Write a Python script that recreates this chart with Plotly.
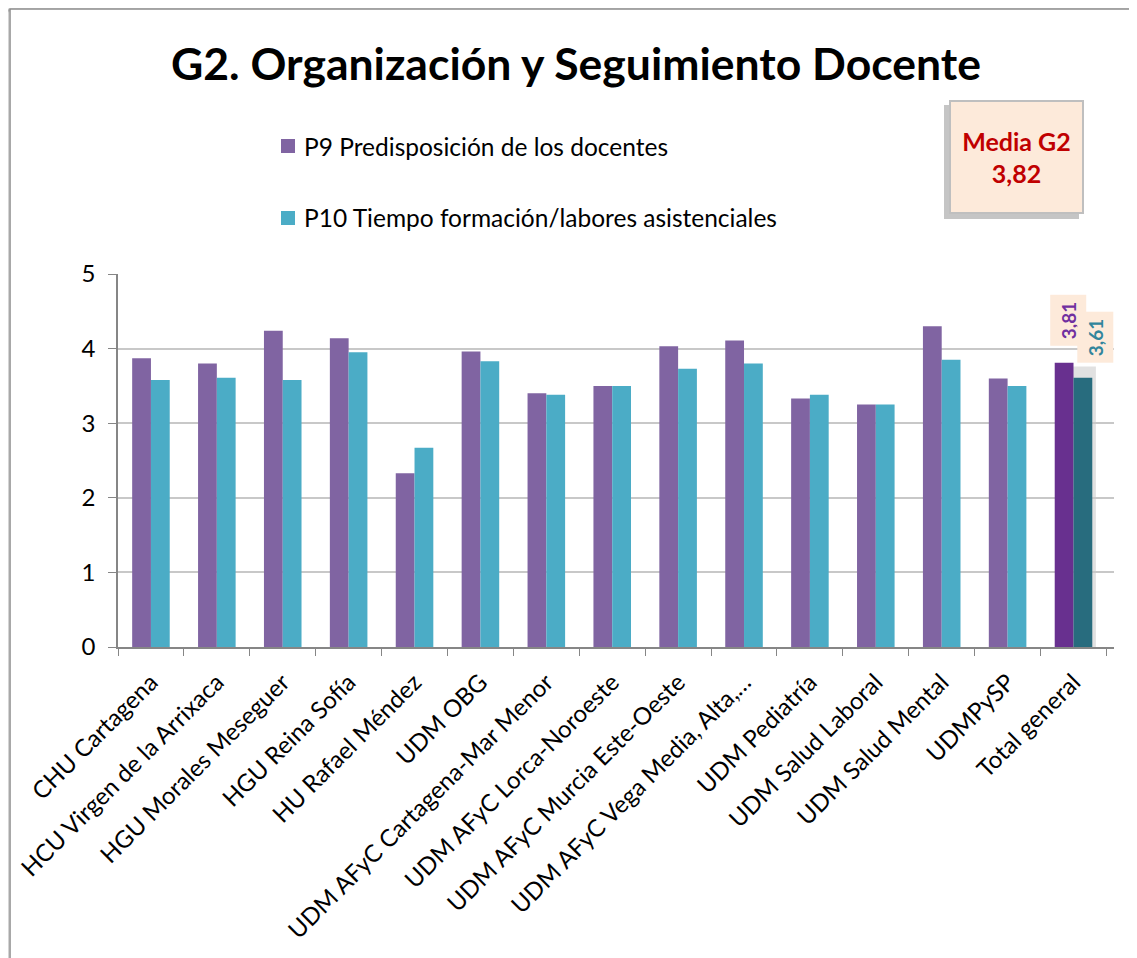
import plotly.graph_objects as go

categories = [
    "CHU Cartagena", "HCU Virgen de la Arrixaca", "HGU Morales Meseguer",
    "HGU Reina Sofía", "HU Rafael Méndez", "UDM OBG",
    "UDM AFyC Cartagena-Mar Menor", "UDM AFyC Lorca-Noroeste",
    "UDM AFyC Murcia Este-Oeste", "UDM AFyC Vega Media, Alta,…",
    "UDM Pediatría", "UDM Salud Laboral", "UDM Salud Mental", "UDMPySP",
    "Total general",
]
p9_values = [3.87, 3.80, 4.24, 4.14, 2.33, 3.96, 3.40, 3.50, 4.03, 4.11, 3.33, 3.25, 4.30, 3.60, 3.81]
p10_values = [3.58, 3.61, 3.58, 3.95, 2.67, 3.83, 3.38, 3.50, 3.73, 3.80, 3.38, 3.25, 3.85, 3.50, 3.61]
series_names = ["P9 Predisposición de los docentes", "P10 Tiempo formación/labores asistenciales"]
total_labels = ["3,81", "3,61"]
media_text = "Media G2<br>3,82"
title_text = "G2. Organización y Seguimiento Docente"
y_ticks = [0, 1, 2, 3, 4, 5]

OFF = 8  # page body margin
W, H = 1137 - OFF, 958 - OFF
# reference pixel positions (screen) of plot area
PL, PR, PT, PB = 118, 1114, 274, 647
L, T = PL - OFF, PT - OFF
R, B = W - (PR - OFF), H - (PB - OFF)
PW, PH = PR - PL, PB - PT

def px_x(px):
    return (px - PL) / PW

def px_y(py):
    return 1 - (py - PT) / PH

FONT = "Lato"
purple, teal = "#8064A2", "#4BACC6"
purple_dark, teal_dark = "#68308F", "#286C7E"
peach = "#FDEADA"

n = len(categories)
c9 = [purple] * (n - 1) + [purple_dark]
c10 = [teal] * (n - 1) + [teal_dark]

fig = go.Figure()
fig.add_trace(go.Bar(x=categories, y=p9_values, name=series_names[0],
                     marker=dict(color=c9, line=dict(width=0)), showlegend=False))
fig.add_trace(go.Bar(x=categories, y=p10_values, name=series_names[1],
                     marker=dict(color=c10, line=dict(width=0)), showlegend=False))

shapes = []
# outer chart frame with shadow
for i, op in enumerate([0.08, 0.14, 0.22, 0.32]):
    off = 8 - 2 * i
    shapes.append(dict(type="rect", xref="paper", yref="paper",
                       x0=px_x(10 - off), x1=px_x(1160), y0=px_y(1000), y1=px_y(9 + off * 0.3),
                       line=dict(color=f"rgba(120,120,120,{op})", width=2), fillcolor="rgba(0,0,0,0)", layer="below"))
shapes.append(dict(type="rect", xref="paper", yref="paper",
                   x0=px_x(10), x1=px_x(1160), y0=px_y(1000), y1=px_y(9),
                   line=dict(color="#8C8C8C", width=1.5), fillcolor="white", layer="below"))
# soft shadow behind total general bars
shapes.append(dict(type="rect", xref="x", yref="y", x0=13.74, x1=14.34, y0=0, y1=p9_values[-1] - 0.05,
                   line=dict(width=0), fillcolor="rgba(90,90,90,0.18)", layer="below"))
# shadow behind media box
shapes.append(dict(type="rect", xref="paper", yref="paper", x0=px_x(944), x1=px_x(1079), y0=px_y(219), y1=px_y(105),
                   line=dict(width=0), fillcolor="rgba(110,110,110,0.40)", layer="above"))
# legend squares
legend_rows = [146, 218]
for color, row in zip([purple, teal], legend_rows):
    shapes.append(dict(type="rect", xref="paper", yref="paper", x0=px_x(281), x1=px_x(295),
                       y0=px_y(row + 7), y1=px_y(row - 7), line=dict(width=0), fillcolor=color, layer="above"))

annotations = [
    dict(text=f"<b>{title_text}</b>", xref="paper", yref="paper", x=px_x(576), y=px_y(62),
         xanchor="center", yanchor="middle", showarrow=False, font=dict(family=FONT, size=44.5, color="black")),
    dict(text=f"<b>{media_text}</b>", xref="paper", yref="paper", x=px_x(1016.5), y=px_y(157),
         xanchor="center", yanchor="middle", showarrow=False, width=129, height=108,
         bgcolor=peach, bordercolor="#BFBFBF", borderwidth=2,
         font=dict(family=FONT, size=25, color="#C00000")),
    dict(text=f"<b>{total_labels[0]}</b>", x=categories[-1], xshift=-5, y=p9_values[-1], yshift=42,
         xref="x", yref="y", showarrow=False, textangle=-90, bgcolor=peach, borderpad=6,
         font=dict(family=FONT, size=19, color="#7030A0")),
    dict(text=f"<b>{total_labels[1]}</b>", x=categories[-1], xshift=22, y=p10_values[-1], yshift=40,
         xref="x", yref="y", showarrow=False, textangle=-90, bgcolor=peach, borderpad=6,
         font=dict(family=FONT, size=19, color="#31859C")),
]
for name, row in zip(series_names, legend_rows):
    annotations.append(dict(text=name, xref="paper", yref="paper", x=px_x(302), y=px_y(row),
                            xanchor="left", yanchor="middle", showarrow=False,
                            font=dict(family=FONT, size=24.5, color="black")))

fig.update_layout(
    width=W, height=H,
    margin=dict(l=L, r=R, t=T, b=B, autoexpand=False),
    paper_bgcolor="white", plot_bgcolor="white",
    barmode="group", bargap=0.43, bargroupgap=0,
    font=dict(family=FONT, size=23, color="black"),
    showlegend=False,
    shapes=shapes, annotations=annotations,
)
fig.update_xaxes(type="category", tickangle=-45, tickson="boundaries", ticks="outside", ticklen=7,
                 tickcolor="#868686", showline=True, linecolor="#868686", linewidth=1.5,
                 ticklabelstandoff=10,
                 tickfont=dict(family=FONT, size=24, color="black"), showgrid=False)
fig.update_yaxes(range=[0, 5], tickvals=y_ticks, ticks="outside", ticklen=8, tickcolor="#868686",
                 showline=True, linecolor="#868686", linewidth=1.5, gridcolor="#C8C8C8", gridwidth=1.5,
                 ticklabelstandoff=8,
                 tickfont=dict(family=FONT, size=24, color="black"), zeroline=False)

fig.write_html("out.html")
